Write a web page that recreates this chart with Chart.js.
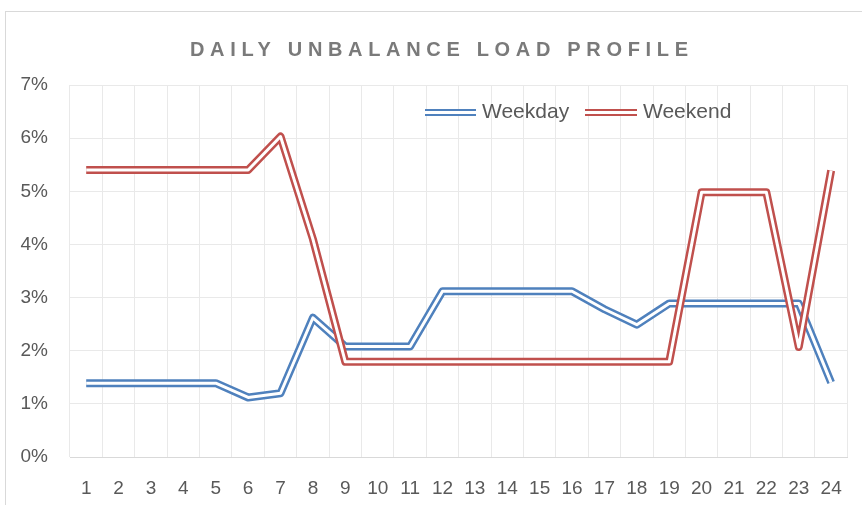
<!DOCTYPE html>
<html>
<head>
<meta charset="utf-8">
<script src="https://cdn.jsdelivr.net/npm/chart.js@4/dist/chart.umd.min.js"></script>
<style>
  html, body { margin: 0; padding: 0; background: #fff; }
  #wrap { position: relative; width: 862px; height: 505px; }
</style>
</head>
<body>
<div id="wrap"><canvas id="c" width="862" height="505"></canvas></div>
<script>
const chartTitle = 'DAILY UNBALANCE LOAD PROFILE';
const hours = ['1','2','3','4','5','6','7','8','9','10','11','12','13','14','15','16','17','18','19','20','21','22','23','24'];
const weekday = [1.39,1.39,1.39,1.39,1.39,1.12,1.20,2.62,2.08,2.08,2.08,3.12,3.12,3.12,3.12,3.12,2.78,2.49,2.89,2.89,2.89,2.89,2.89,1.40];
const weekend = [5.40,5.40,5.40,5.40,5.40,5.40,6.03,4.10,1.79,1.79,1.79,1.79,1.79,1.79,1.79,1.79,1.79,1.79,1.79,4.98,4.98,4.98,2.07,5.39];
const seriesNames = ['Weekday','Weekend'];
const seriesColors = ['#4F81BD','#C0504D'];

const OUTER = 8, INNER = 3;

function lineSet(label, data, color, width, order) {
  return { label, data, borderColor: color, borderWidth: width, pointRadius: 0,
           pointHoverRadius: 0, tension: 0, fill: false, order,
           borderJoinStyle: 'round', borderCapStyle: 'butt' };
}

const deco = {
  id: 'deco',
  beforeDraw(chart) {
    const ctx = chart.ctx;
    ctx.save();
    ctx.fillStyle = '#fff';
    ctx.fillRect(0, 0, chart.width, chart.height);
    ctx.strokeStyle = '#d9d9d9';
    ctx.lineWidth = 1;
    ctx.strokeRect(5.5, 11.5, 1000, 1000);
    ctx.restore();
  },
  afterDraw(chart) {
    const ctx = chart.ctx;
    ctx.save();
    // title
    ctx.font = 'bold 20px "Liberation Sans", sans-serif';
    ctx.fillStyle = '#7a7a7a';
    ctx.textBaseline = 'middle';
    ctx.textAlign = 'left';
    ctx.letterSpacing = '0px';
    const w0 = ctx.measureText(chartTitle).width;
    const target = 498;
    const sp = (target - w0) / (chartTitle.length - 1);
    ctx.letterSpacing = sp + 'px';
    ctx.fillText(chartTitle, 190, 50);
    ctx.letterSpacing = '0px';
    // legend
    const items = [{x1: 425, x2: 476, tx: 482}, {x1: 585, x2: 637, tx: 643}];
    const ly = 112.5;
    ctx.font = '21px "Liberation Sans", sans-serif';
    items.forEach((it, i) => {
      ctx.beginPath();
      ctx.moveTo(it.x1, ly); ctx.lineTo(it.x2, ly);
      ctx.strokeStyle = seriesColors[i]; ctx.lineWidth = 7; ctx.stroke();
      ctx.beginPath();
      ctx.moveTo(it.x1 - 1, ly); ctx.lineTo(it.x2 + 1, ly);
      ctx.strokeStyle = '#fff'; ctx.lineWidth = 3; ctx.stroke();
      ctx.fillStyle = '#595959';
      ctx.fillText(seriesNames[i], it.tx, ly);
    });
    ctx.restore();
  }
};

new Chart(document.getElementById('c'), {
  type: 'line',
  data: {
    labels: hours,
    datasets: [
      lineSet(seriesNames[0], weekday, seriesColors[0], OUTER, 4),
      lineSet(seriesNames[0] + ' inner', weekday, '#ffffff', INNER, 3),
      lineSet(seriesNames[1], weekend, seriesColors[1], OUTER, 2),
      lineSet(seriesNames[1] + ' inner', weekend, '#ffffff', INNER, 1)
    ]
  },
  options: {
    responsive: false,
    animation: false,
    events: [],
    layout: { padding: { left: 0, right: 14, top: 85, bottom: 0 } },
    plugins: { legend: { display: false }, title: { display: false }, tooltip: { enabled: false } },
    scales: {
      x: {
        offset: true,
        grid: { offset: true, color: '#e9e9e9', lineWidth: 1, drawTicks: false },
        border: { color: '#d9d9d9', width: 1 },
        ticks: { color: '#595959', padding: 20, maxRotation: 0, autoSkip: false,
                 font: { family: '"Liberation Sans", sans-serif', size: 19 } },
        afterFit(s) { s.height = 48; }
      },
      y: {
        min: 0, max: 7,
        grid: { color: '#e9e9e9', lineWidth: 1, drawTicks: false },
        border: { display: false },
        ticks: { stepSize: 1, color: '#595959', padding: 22,
                 font: { family: '"Liberation Sans", sans-serif', size: 19 },
                 callback: v => v + '%' },
        afterFit(s) { s.width = 70; }
      }
    }
  },
  plugins: [deco]
});
</script>
</body>
</html>
